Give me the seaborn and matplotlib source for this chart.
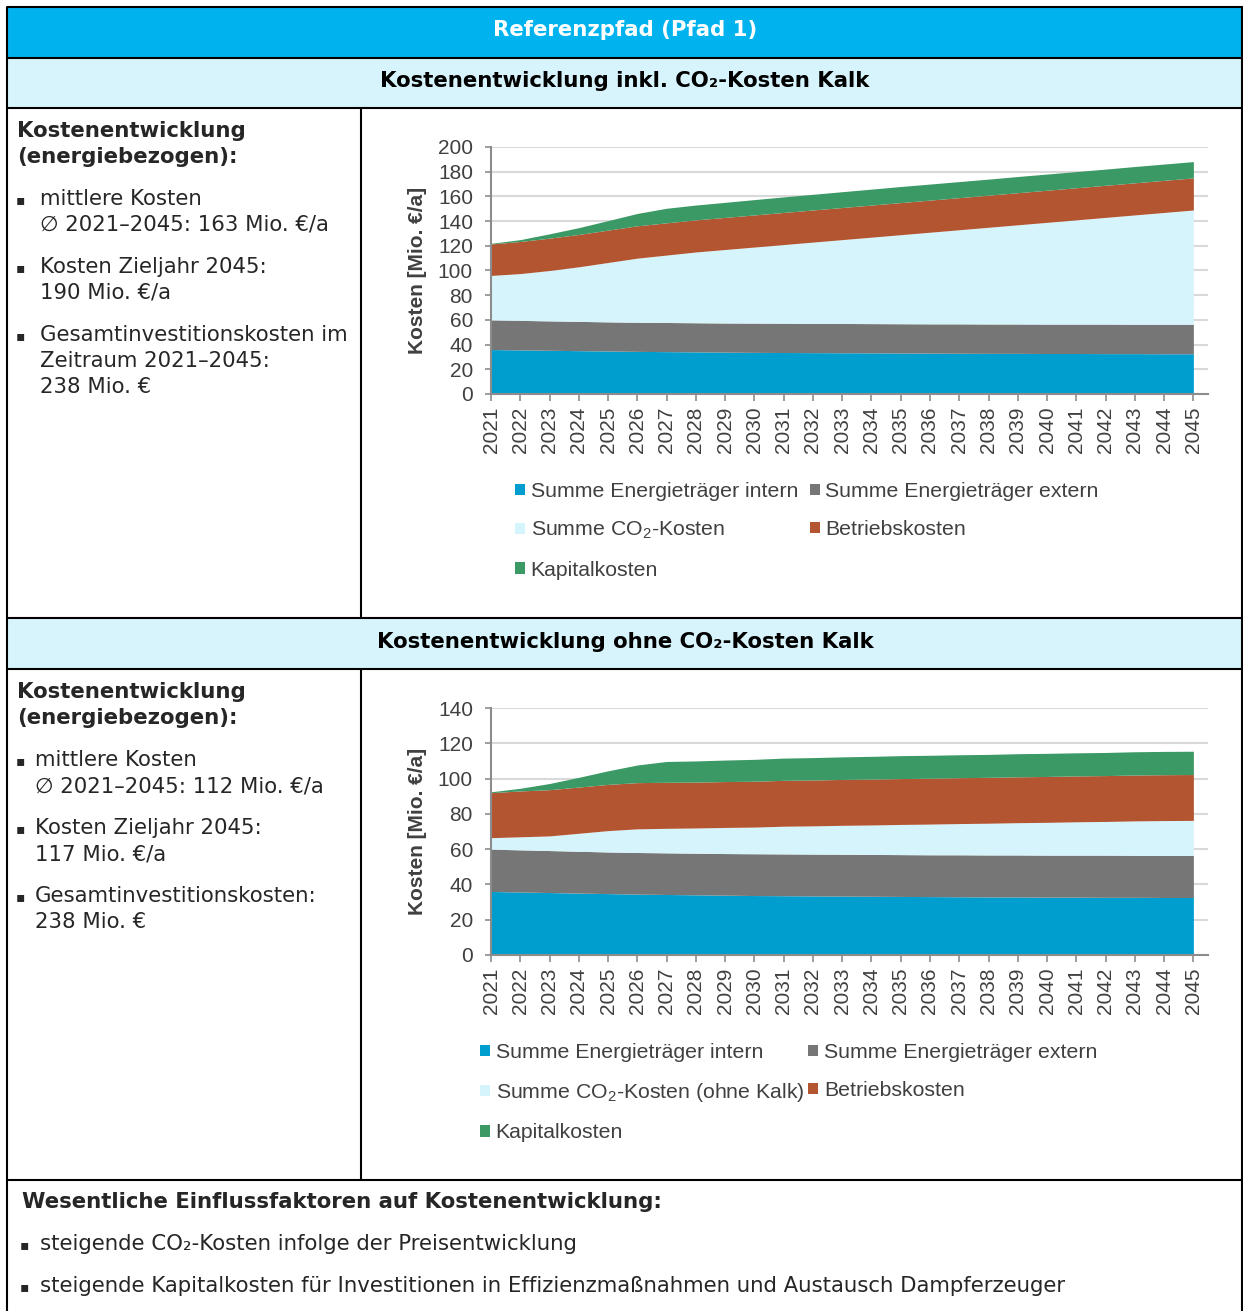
import matplotlib
matplotlib.use("Agg")
import matplotlib.pyplot as plt
from matplotlib.patches import Rectangle, Patch
import seaborn as sns

# ---------------------------------------------------------------- data
years = list(range(2021, 2046))
intern = [36.0, 35.7, 35.4, 35.1, 34.8, 34.5, 34.3, 34.1, 33.9, 33.7, 33.6, 33.5, 33.4,
          33.3, 33.2, 33.1, 33.0, 32.9, 32.9, 32.8, 32.8, 32.7, 32.7, 32.6, 32.6]
extern = [24.0, 23.9, 23.8, 23.7, 23.6, 23.6, 23.6, 23.6, 23.6, 23.7, 23.7, 23.7, 23.7,
          23.7, 23.7, 23.7, 23.8, 23.8, 23.8, 23.8, 23.8, 23.9, 23.8, 23.9, 23.9]
co2_kalk = [36.0, 37.9, 40.8, 44.2, 48.1, 51.9, 54.6, 57.3, 59.5, 61.6, 63.7, 65.8, 67.9,
            70.0, 72.1, 74.2, 76.2, 78.3, 80.3, 82.4, 84.4, 86.4, 88.5, 90.5, 92.5]
co2_ohne_kalk = [6.5, 7.4, 8.3, 10.2, 12.1, 13.4, 13.9, 14.3, 14.8, 15.1, 15.7, 16.0, 16.4,
                 16.7, 17.1, 17.4, 17.7, 18.0, 18.3, 18.6, 18.9, 19.1, 19.5, 19.7, 19.8]
betrieb = [25.5, 26.0, 26.2, 26.2, 26.2, 26.2, 26.1, 26.0, 26.0, 26.0, 26.0, 26.0, 26.0,
           26.0, 26.0, 26.0, 26.0, 26.0, 26.0, 26.0, 26.0, 26.0, 26.0, 26.0, 26.0]
kapital = [0.5, 1.5, 3.5, 5.5, 7.7, 10.0, 11.8, 12.0, 12.2, 12.4, 12.6, 12.7, 12.8,
           12.9, 13.0, 13.0, 13.0, 13.0, 13.1, 13.1, 13.1, 13.1, 13.2, 13.2, 13.2]

labels_1 = ["Summe Energieträger intern", "Summe Energieträger extern",
            "Summe CO$_2$-Kosten", "Betriebskosten", "Kapitalkosten"]
labels_2 = ["Summe Energieträger intern", "Summe Energieträger extern",
            "Summe CO$_2$-Kosten (ohne Kalk)", "Betriebskosten", "Kapitalkosten"]

# ---------------------------------------------------------------- style
sns.set_theme(style="white")
plt.rcParams["font.family"] = ["DejaVu Sans"]
plt.rcParams["mathtext.fontset"] = "custom"
plt.rcParams["mathtext.rm"] = "Liberation Sans"
plt.rcParams["mathtext.it"] = "Liberation Sans:italic"
plt.rcParams["mathtext.bf"] = "Liberation Sans:bold"

palette = sns.color_palette(["#009ecf", "#767676", "#d5f4fc", "#b45532", "#3a9965"])
HEAD_BLUE = "#00b3ee"
BAND = "#d7f4fc"
CHART_TXT = "#404040"
GRID = "#d9d9d9"
AXIS = "#8c8c8c"
ARIAL = "Liberation Sans"

W, H = 1243, 1311
fig = plt.figure(figsize=(W / 100, H / 100), dpi=100)
fig.patch.set_facecolor("white")

bg = fig.add_axes([0, 0, 1, 1], zorder=0)
bg.set_xlim(0, W)
bg.set_ylim(H, 0)
bg.axis("off")


def box(left, top, right, bottom):
    return [left / W, 1 - bottom / H, (right - left) / W, (bottom - top) / H]


# ---------------------------------------------------------------- table frame
bg.add_patch(Rectangle((7, 7), W - 7, 50, facecolor=HEAD_BLUE, edgecolor="none"))
bg.add_patch(Rectangle((7, 57), W - 7, 51, facecolor=BAND, edgecolor="none"))
bg.add_patch(Rectangle((7, 618), W - 7, 51, facecolor=BAND, edgecolor="none"))

LW = 1.5
for y in (7, 57.5, 108, 618, 669, 1179.5):
    bg.plot([7, W], [y, y], color="black", lw=LW, solid_capstyle="butt")
bg.plot([7.5, 7.5], [7, H], color="black", lw=LW)
bg.plot([1242, 1242], [7, H], color="black", lw=LW)
bg.plot([361, 361], [108, 618], color="black", lw=LW)
bg.plot([361, 361], [669, 1179.5], color="black", lw=LW)

FS = 15.3
bg.text(625, 30, "Referenzpfad (Pfad 1)", color="white", fontsize=FS, weight="bold",
        ha="center", va="center")
bg.text(625, 81, "Kostenentwicklung inkl. CO\u2082-Kosten Kalk", color="black", fontsize=FS,
        weight="bold", ha="center", va="center")
bg.text(625, 642, "Kostenentwicklung ohne CO\u2082-Kosten Kalk", color="black", fontsize=FS,
        weight="bold", ha="center", va="center")


def left_cell(y0, text_x, lines):
    bg.text(17, y0, "Kostenentwicklung", fontsize=FS, weight="bold", va="center")
    bg.text(17, y0 + 26, "(energiebezogen):", fontsize=FS, weight="bold", va="center")
    for y, txt, bullet in lines:
        if bullet:
            bg.text(20, y + 1, "\u25aa", fontsize=10, va="center", ha="center")
        bg.text(text_x, y, txt, fontsize=FS, va="center")


left_cell(131, 40, [
    (199, "mittlere Kosten", True),
    (225, "\u2205 2021\u20132045: 163 Mio. \u20ac/a", False),
    (267, "Kosten Zieljahr 2045:", True),
    (293, "190 Mio. \u20ac/a", False),
    (335, "Gesamtinvestitionskosten im", True),
    (361, "Zeitraum 2021\u20132045:", False),
    (387, "238 Mio. \u20ac", False),
])
left_cell(692, 35, [
    (760, "mittlere Kosten", True),
    (786, "\u2205 2021\u20132045: 112 Mio. \u20ac/a", False),
    (828, "Kosten Zieljahr 2045:", True),
    (854, "117 Mio. \u20ac/a", False),
    (896, "Gesamtinvestitionskosten:", True),
    (922, "238 Mio. \u20ac", False),
])

bg.text(22, 1202, "Wesentliche Einflussfaktoren auf Kostenentwicklung:", fontsize=FS,
        weight="bold", va="center")
for y, txt in [(1244, "steigende CO\u2082-Kosten infolge der Preisentwicklung"),
               (1286, "steigende Kapitalkosten für Investitionen in Effizienzmaßnahmen "
                      "und Austausch Dampferzeuger")]:
    bg.text(24, y + 1, "\u25aa", fontsize=10, va="center", ha="center")
    bg.text(40, y, txt, fontsize=FS, va="center")


# ---------------------------------------------------------------- charts
def area_chart(rect, co2, ymax, labels, label_y, legend_xy, colspace):
    ax = fig.add_axes(rect, zorder=2)
    ax.set_facecolor("none")
    ax.stackplot(years, intern, extern, co2, betrieb, kapital,
                 colors=palette, labels=labels, linewidth=0)
    ax.set_xlim(2021, 2045.5)
    ax.set_ylim(0, ymax)
    ax.set_yticks(range(0, ymax + 1, 20))
    ax.set_xticks(years)
    ax.set_xticklabels([str(y) for y in years], rotation=90, fontfamily=ARIAL,
                       fontsize=15, color=CHART_TXT)
    ax.set_yticklabels([str(v) for v in range(0, ymax + 1, 20)], fontfamily=ARIAL,
                       fontsize=15, color=CHART_TXT)
    ax.yaxis.grid(True, color=GRID, lw=1.5)
    ax.set_axisbelow(True)
    sns.despine(ax=ax, top=True, right=True)
    for side in ("left", "bottom"):
        ax.spines[side].set_color(AXIS)
        ax.spines[side].set_linewidth(1.5)
    ax.tick_params(axis="x", direction="out", length=5, width=1.2, color=AXIS, pad=4,
                   bottom=True)
    ax.tick_params(axis="y", direction="out", length=4, width=1.2, color=AXIS, pad=9,
                   left=True)
    bg.text(418, label_y, "Kosten [Mio. \u20ac/a]", rotation=90, ha="center", va="center",
            fontfamily=ARIAL, fontsize=15, weight="bold", color=CHART_TXT)

    handles = [Patch(facecolor=c, edgecolor="none") for c in palette]
    order = [0, 2, 4, 1, 3]
    fx, fy = legend_xy
    fig.legend([handles[i] for i in order], [labels[i] for i in order],
               loc="upper left", bbox_to_anchor=(fx / W, 1 - fy / H), ncol=2,
               frameon=False, borderpad=0, borderaxespad=0,
               prop={"family": ARIAL, "size": 15.3}, labelcolor=CHART_TXT,
               handlelength=0.48, handleheight=0.48, handletextpad=0.25,
               labelspacing=0.9, columnspacing=colspace)
    return ax


area_chart(box(491, 147, 1208, 394), co2_kalk, 200, labels_1, 270, (515, 482), 0.55)
area_chart(box(491, 708, 1208, 955), co2_ohne_kalk, 140, labels_2, 831, (480, 1043), 0.2)

fig.savefig("out.png", dpi=100)
